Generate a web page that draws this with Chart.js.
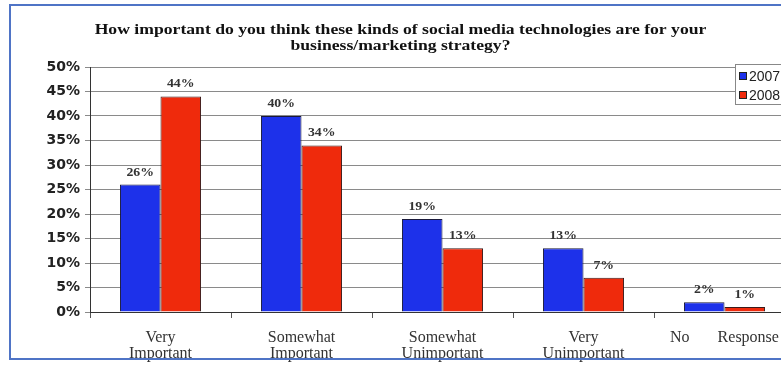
<!DOCTYPE html>
<html>
<head>
<meta charset="utf-8">
<script src="https://cdn.jsdelivr.net/npm/chart.js@4/dist/chart.umd.min.js"></script>
<style>
  html, body { margin: 0; padding: 0; background: #fff; overflow: hidden; width: 781px; height: 365px; }
  #wrap { position: absolute; left: 0; top: 0; width: 808px; height: 365px; }
  #frame { position: absolute; left: 9px; top: 4px; width: 900px; height: 356px; border: 2px solid #4f74c6; box-sizing: border-box; pointer-events: none; }
</style>
</head>
<body>
<div id="wrap"><canvas id="c" width="808" height="365"></canvas></div>
<div id="frame"></div>
<script>
const titleLines = ['How important do you think these kinds of social media technologies are for your', 'business/marketing strategy?'];
const categories = [['Very', 'Important'], ['Somewhat', 'Important'], ['Somewhat', 'Unimportant'], ['Very', 'Unimportant'], 'No       Response'];
const seriesNames = ['2007', '2008'];
const values2007 = [26, 40, 19, 13, 2];
const values2008 = [44, 34, 13, 7, 1];
const yTicks = [0, 5, 10, 15, 20, 25, 30, 35, 40, 45, 50];

const BLUE = '#1d31ea';
const RED = '#ef2a0c';

const wideTitle = {
  id: 'wideTitle',
  afterDraw(chart, args, opts) {
    const ctx = chart.ctx;
    ctx.save();
    ctx.font = 'bold 14px "Liberation Serif", "Times New Roman", serif';
    ctx.fillStyle = '#111';
    ctx.textAlign = 'center';
    ctx.textBaseline = 'middle';
    const cx = 400.5;
    opts.lines.forEach((line, i) => {
      ctx.save();
      ctx.translate(cx, 30 + i * 16);
      ctx.scale(1.26, 1);
      ctx.fillText(line, 0, 0);
      ctx.restore();
    });
    ctx.restore();
  }
};

const dataLabels = {
  id: 'dataLabels',
  afterDatasetsDraw(chart) {
    const ctx = chart.ctx;
    ctx.save();
    ctx.font = 'bold 12px "Liberation Serif", "Times New Roman", serif';
    ctx.fillStyle = '#333';
    ctx.textAlign = 'center';
    ctx.textBaseline = 'bottom';
    chart.data.datasets.forEach((ds, i) => {
      const meta = chart.getDatasetMeta(i);
      meta.data.forEach((el, j) => {
        ctx.save();
        ctx.translate(el.x, el.y - 6);
        ctx.scale(1.15, 1);
        ctx.fillText(ds.data[j] + '%', 0, 0);
        ctx.restore();
      });
    });
    ctx.restore();
  }
};

const boxLegend = {
  id: 'boxLegend',
  afterDraw(chart) {
    const ctx = chart.ctx;
    const x = 735, y = 64, w = 80, h = 40;
    ctx.save();
    ctx.fillStyle = '#fff';
    ctx.fillRect(x, y, w, h);
    ctx.strokeStyle = '#888';
    ctx.lineWidth = 1;
    ctx.strokeRect(x + 0.5, y + 0.5, w, h);
    ctx.font = '14px "Liberation Sans", Arial, sans-serif';
    ctx.textBaseline = 'middle';
    ctx.textAlign = 'left';
    chart.data.datasets.forEach((ds, i) => {
      const cy = y + 12 + i * 19;
      ctx.fillStyle = ds.backgroundColor;
      ctx.fillRect(x + 4, cy - 4, 8, 8);
      ctx.strokeStyle = '#222';
      ctx.strokeRect(x + 4.5, cy - 3.5, 7, 7);
      ctx.fillStyle = '#222';
      ctx.fillText(ds.label, x + 14, cy + 1);
    });
    ctx.restore();
  }
};

new Chart(document.getElementById('c'), {
  type: 'bar',
  data: {
    labels: categories,
    datasets: [
      { label: seriesNames[0], data: values2007, backgroundColor: BLUE, borderColor: '#1a1a3a', borderWidth: 1 },
      { label: seriesNames[1], data: values2008, backgroundColor: RED, borderColor: '#3a1a1a', borderWidth: 1 }
    ]
  },
  options: {
    responsive: false,
    animation: false,
    devicePixelRatio: 1,
    datasets: { bar: { categoryPercentage: 0.575, barPercentage: 1.0 } },
    layout: { padding: { left: 6, right: 13, top: 67, bottom: 0 } },
    plugins: {
      legend: { display: false },
      tooltip: { enabled: false },
      title: { display: false },
      wideTitle: { lines: titleLines }
    },
    scales: {
      x: {
        grid: { display: true, drawOnChartArea: false, drawTicks: true, tickLength: 6, color: '#555', offset: true },
        border: { display: true, color: '#333', width: 1 },
        ticks: {
          color: '#333',
          padding: 12,
          maxRotation: 0,
          autoSkip: false,
          font: { family: '"Liberation Serif", "Times New Roman", serif', size: 16, lineHeight: '16px' }
        },
        afterFit(scale) { scale.height = 53; }
      },
      y: {
        min: 0,
        max: 50,
        afterBuildTicks(scale) { scale.ticks = yTicks.map(v => ({ value: v })); },
        grid: { color: '#8a8a8a', tickLength: 5, drawTicks: true },
        border: { display: true, color: '#333', width: 1 },
        ticks: {
          color: '#222',
          padding: 5,
          font: { family: '"DejaVu Sans", "Liberation Sans", Arial, sans-serif', size: 14, weight: 'bold' },
          callback: v => v + '%'
        },
        afterFit(scale) { scale.width = 84; }
      }
    }
  },
  plugins: [wideTitle, dataLabels, boxLegend]
});
</script>
</body>
</html>
